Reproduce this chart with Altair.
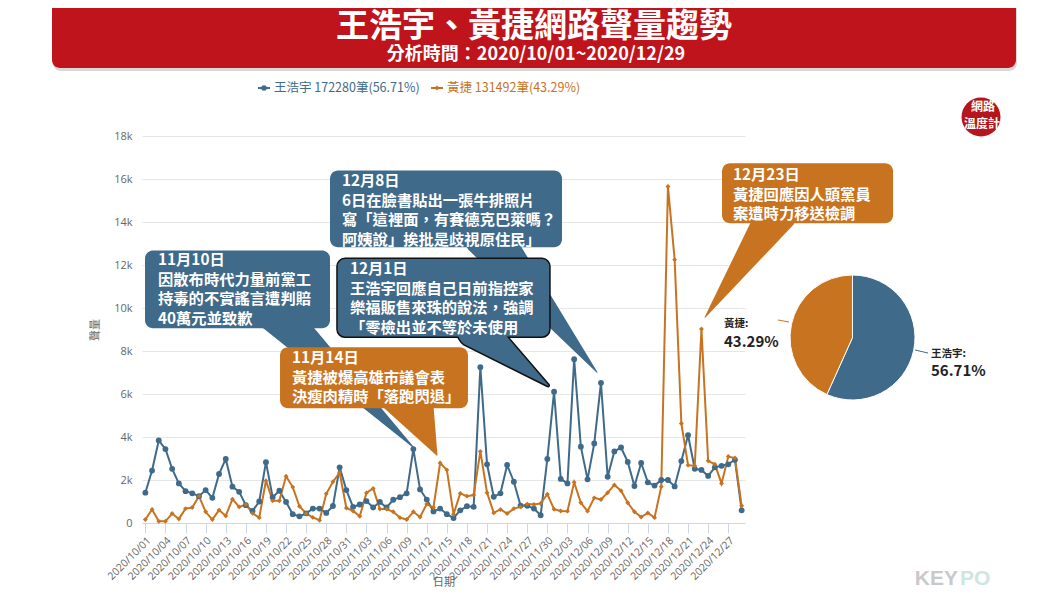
import altair as alt
import pandas as pd

# ---------------- data ----------------
dates = pd.date_range("2020-10-01", "2020-12-29", freq="D").strftime("%Y-%m-%d").tolist()
series = ["王浩宇", "黃捷"]
colors = ["#3f6a8a", "#c8731f"]
totals = [172280, 131492]
shares = ["56.71%", "43.29%"]

wang = [1410, 2440, 3840, 3440, 2520, 1840, 1480, 1380, 1250, 1530,
        1170, 2280, 2980, 1690, 1450, 830, 560, 1000, 2830, 1200,
        1500, 980, 410, 310, 450, 670, 670, 470, 790, 2590,
        1530, 750, 860, 1020, 720, 980, 720, 1080, 1200, 1380,
        3440, 1560, 1090, 540, 670, 410, 230, 590, 780, 750,
        7250, 2730, 1220, 1380, 2700, 1920, 810, 800, 670, 360,
        2980, 6110, 2050, 1840, 7620, 3550, 2030, 3700, 6520, 2150,
        3330, 3510, 2840, 1720, 2790, 1890, 1740, 2000, 2000, 1700,
        2880, 4080, 2520, 2470, 2190, 2590, 2660, 2730, 2940, 590]
huang = [160, 630, 80, 80, 440, 190, 670, 720, 1250, 520,
         160, 600, 330, 1110, 750, 860, 450, 250, 1970, 1030,
         1030, 2170, 1670, 780, 440, 260, 130, 1360, 1920, 2340,
         700, 560, 310, 1400, 1610, 650, 650, 520, 250, 160,
         520, 280, 880, 720, 2790, 2470, 410, 1380, 1250, 1300,
         3330, 1410, 470, 630, 440, 670, 750, 880, 860, 910,
         1340, 640, 560, 550, 1890, 940, 550, 1170, 1090, 1410,
         1770, 1500, 940, 520, 280, 470, 250, 1690, 15650, 12250,
         4630, 2690, 2660, 9020, 2890, 2730, 1840, 3090, 3020, 800]

y_ticks = list(range(0, 18001, 2000))
tick_dates = dates[::3]

# callout texts
callout_texts = [
    ["11月10日", "因散布時代力量前黨工", "持毒的不實謠言遭判賠", "40萬元並致歉"],
    ["11月14日", "黃捷被爆高雄市議會表", "決瘦肉精時「落跑閃退」"],
    ["12月8日", "6日在臉書貼出一張牛排照片", "寫「這裡面，有賽德克巴萊嗎？", "阿姨說」挨批是歧視原住民」"],
    ["12月1日", "王浩宇回應自己日前指控家", "樂福販售來珠的說法，強調", "「零檢出並不等於未使用"],
    ["12月23日", "黃捷回應因人頭黨員", "案遭時力移送檢調"],
]
callout_series = [0, 1, 0, 0, 1]

# ---------------- helpers ----------------
DAY_MS = 86400000
T0 = pd.Timestamp("2020-10-01", tz="UTC").value // 10**6


def t(day):
    return int(T0 + day * DAY_MS)


def ts(d):
    return int(pd.Timestamp(d, tz="UTC").value // 10**6)


# layout of callouts (in data units: day offset from 10/01, value)
callout_layout = [
    dict(box=(-0.05, 27.56, 12680, 9060), txt=(1.89, 12540), tail=((19.35, 9800), (40.02, 3520)), w=40),
    dict(box=(20.10, 48.15, 8170, 5340), txt=(21.89, 7990), tail=((39.05, 5980), (43.53, 3150)), w=55),
    dict(box=(27.56, 62.19, 16400, 12820), txt=(29.35, 16220), tail=((50.99, 13380), (67.41, 7010)), w=47),
    dict(box=(28.60, 60.39, 12310, 8640), txt=(30.54, 12130), tail=((49.35, 9010), (60.10, 6400)), w=38, outline=True),
    dict(box=(86.07, 111.6, 16730, 13940), txt=(87.71, 16500), tail=((94.28, 14400), (83.54, 9570)), w=40),
]

W, H = 603, 387
PAD = {"left": 134, "top": 128, "right": 307, "bottom": 65}
GRAY = "#666666"

x_scale = alt.Scale(type="utc", domain=[t(-0.5), t(89.5)])
y_scale = alt.Scale(domain=[0, 18000], nice=False)

x_axis = alt.Axis(values=[ts(d) for d in tick_dates],
                  labelExpr="utcFormat(datum.value, '%Y/%m/%d')",
                  labelAngle=-45, labelColor=GRAY, labelFontSize=10.5, labelFont="Open Sans",
                  labelOverlap=False, labelPadding=2,
                  domainColor="#ccd6eb", tickColor="#ccd6eb", tickSize=10, grid=False,
                  title="日期", titleColor=GRAY, titleFontSize=11, titleFontWeight="normal",
                  titleY=59, titleBaseline="middle")
y_axis = alt.Axis(values=y_ticks,
                  labelExpr="datum.value == 0 ? '0' : (datum.value / 1000) + 'k'",
                  grid=True, gridColor="#e6e6e6", domain=False, ticks=False,
                  labelColor=GRAY, labelFontSize=11, labelFont="Open Sans", labelPadding=10,
                  title="聲量", titleColor=GRAY, titleFontSize=11, titleFontWeight="normal",
                  titlePadding=13)

df = pd.DataFrame({
    "date": dates * 2,
    "series": [series[0]] * len(dates) + [series[1]] * len(dates),
    "value": wang + huang,
})
color_scale = alt.Scale(domain=series, range=colors)

one = pd.DataFrame({"a": [0]})


def deco_text(text, x, y, size, color, weight="normal", align="center", font=None):
    kw = dict(text=text, fontSize=size, color=color, fontWeight=weight, align=align, baseline="middle")
    if font:
        kw["font"] = font
    return alt.Chart(one).mark_text(**kw).encode(x=alt.value(x), y=alt.value(y))


layers = []

# ---- main lines ----
X = alt.X("date:T", scale=x_scale, axis=x_axis)
Y = alt.Y("value:Q", scale=y_scale, axis=y_axis)
layers.append(alt.Chart(df).mark_line(strokeWidth=2).encode(
    x=X, y=Y, color=alt.Color("series:N", scale=color_scale, legend=None)))
layers.append(alt.Chart(df).transform_filter(alt.datum.series == series[0]).mark_point(
    filled=True, opacity=1, size=34, shape="circle", color=colors[0]).encode(x=X, y=Y))
layers.append(alt.Chart(df).transform_filter(alt.datum.series == series[1]).mark_point(
    filled=True, opacity=1, size=24, shape="diamond", color=colors[1]).encode(x=X, y=Y))

# ---- banner ----
layers.append(alt.Chart(one).mark_rect(cornerRadius=8, color="#d8d8d8").encode(
    x=alt.value(-89), x2=alt.value(875), y=alt.value(-150), y2=alt.value(-65)))
layers.append(alt.Chart(one).mark_rect(cornerRadius=8, color="#c0141c").encode(
    x=alt.value(-90), x2=alt.value(874), y=alt.value(-150), y2=alt.value(-68)))
layers.append(deco_text("王浩宇、黃捷網路聲量趨勢", 392, -109.5, 33, "white", "bold"))
layers.append(deco_text("分析時間：2020/10/01~2020/12/29", 394, -81, 18, "white", "bold"))

# ---- legend ----
leg_x = [116, 289]
for i in range(2):
    layers.append(alt.Chart(one).mark_rule(color=colors[i], strokeWidth=2).encode(
        x=alt.value(leg_x[i]), x2=alt.value(leg_x[i] + 12), y=alt.value(-48)))
    layers.append(alt.Chart(one).mark_point(filled=True, opacity=1, color=colors[i],
                                            shape=["circle", "diamond"][i], size=[30, 26][i]).encode(
        x=alt.value(leg_x[i] + 6), y=alt.value(-48)))
    layers.append(deco_text(f"{series[i]} {totals[i]}筆({shares[i]})", leg_x[i] + 16, -48, 12.5,
                            colors[i], align="left"))

# ---- logo ----
layers.append(alt.Chart(one).mark_point(filled=True, opacity=1, color="#b5161d", size=1520, shape="circle").encode(
    x=alt.value(839), y=alt.value(-19)))
layers.append(deco_text("網路", 841, -29, 12, "white", "bold"))
layers.append(deco_text("溫度計", 840, -12, 12, "white", "bold"))

# ---- callouts ----
XA = lambda f: alt.X(f, type="temporal", scale=x_scale, axis=x_axis)
YA = lambda f: alt.Y(f, type="quantitative", scale=y_scale, axis=y_axis)

for lines, si, lay in zip(callout_texts, callout_series, callout_layout):
    col = colors[si]
    b0, b1, vt, vb = lay["box"]
    rect_df = pd.DataFrame({"x0": [t(b0)], "x1": [t(b1)], "y0": [vt], "y1": [vb]})
    (bd, bv), (td, tv) = lay["tail"]
    tail_df = pd.DataFrame({"x": [t(bd), t(td)], "y": [bv, tv], "w": [lay["w"], 0]})
    txt_df = pd.DataFrame({"x": [t(lay["txt"][0])], "y": [lay["txt"][1]], "label": ["\n".join(lines)]})

    tail_enc = dict(x=XA("x"), y=YA("y"), size=alt.Size("w:Q", scale=None, legend=None))
    rect_enc = dict(x=XA("x0"), x2=alt.X2("x1"), y=YA("y0"), y2=alt.Y2("y1"))
    if lay.get("outline"):
        layers.append(alt.Chart(tail_df).mark_trail(color=col, stroke="#111111", strokeWidth=3).encode(**tail_enc))
        layers.append(alt.Chart(rect_df).mark_rect(cornerRadius=8, color=col, stroke="#111111",
                                                   strokeWidth=1.5).encode(**rect_enc))
        layers.append(alt.Chart(tail_df).mark_trail(color=col).encode(**tail_enc))
    else:
        layers.append(alt.Chart(tail_df).mark_trail(color=col).encode(**tail_enc))
        layers.append(alt.Chart(rect_df).mark_rect(cornerRadius=8, color=col).encode(**rect_enc))
    layers.append(alt.Chart(txt_df).mark_text(align="left", baseline="top", lineBreak="\n", lineHeight=19.5,
                                              fontSize=15.3, color="white", fontWeight="bold").encode(
        x=XA("x"), y=YA("y"), text="label:N"))

# ---- pie ----
pie_df = pd.DataFrame({"series": series, "count": totals, "idx": [0, 1]})
layers.append(alt.Chart(pie_df).mark_arc(outerRadius=62.5, stroke="white", strokeWidth=1).encode(
    theta=alt.Theta("count:Q", stack=True),
    color=alt.Color("series:N", scale=color_scale, legend=None),
    order=alt.Order("idx:Q"),
    x=alt.value(710.5), y=alt.value(201.5)))
layers.append(alt.Chart(one).mark_rule(color=colors[1], strokeWidth=1).encode(
    x=alt.value(636), x2=alt.value(647), y=alt.value(184), y2=alt.value(186)))
layers.append(alt.Chart(one).mark_rule(color=colors[0], strokeWidth=1).encode(
    x=alt.value(773), x2=alt.value(786), y=alt.value(214), y2=alt.value(217)))
layers.append(deco_text(series[1] + ":", 582, 188, 10.5, "#222222", "bold", align="left"))
layers.append(deco_text(shares[1], 582, 206, 15, "#222222", "bold", align="left"))
layers.append(deco_text(series[0] + ":", 789, 218, 10.5, "#222222", "bold", align="left"))
layers.append(deco_text(shares[0], 789, 235, 15, "#222222", "bold", align="left"))

# ---- watermark ----
layers.append(deco_text("KEY", 816, 443, 21, "#c9c9c9", "bold", align="right", font="Liberation Sans"))
layers.append(deco_text("PO", 818, 443, 21, "#cde6e0", "bold", align="left", font="Liberation Sans"))

chart = alt.layer(*layers).properties(
    width=W, height=H, padding=PAD, autosize=alt.AutoSizeParams(type="none")
).configure(font="Noto Sans CJK TC").configure_view(stroke=None)

chart.save("out.html", embed_options={"renderer": "svg", "actions": False})
